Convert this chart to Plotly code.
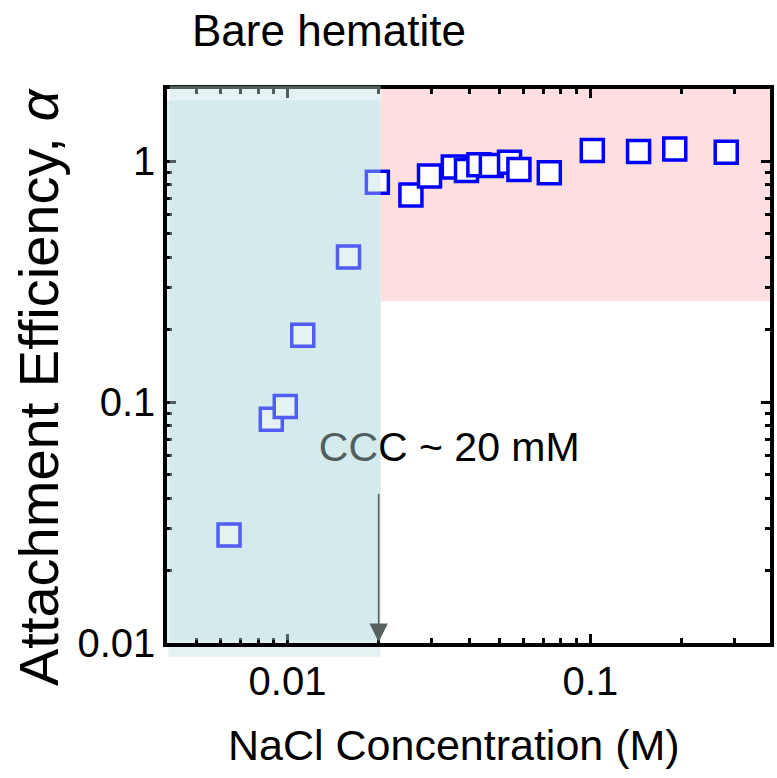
import numpy as np
import plotly.graph_objects as go

# ---- data ----
nacl_M = [0.00641, 0.00884, 0.00983, 0.01123, 0.0159, 0.0198,
          0.02556, 0.02944, 0.03528, 0.03900, 0.04285, 0.04712,
          0.0541, 0.0581, 0.0732, 0.1015, 0.1443, 0.190, 0.281]
alpha = [0.0281, 0.085, 0.096, 0.190, 0.401, 0.82,
         0.725, 0.870, 0.948, 0.918, 0.969, 0.963,
         0.993, 0.927, 0.898, 1.11, 1.10, 1.127, 1.092]

ccc_M = 0.02
x_range = [0.004, 0.392]
y_range = [0.01, 2.0]
pink_y_low = 0.263

x_tickvals = [0.01, 0.1]
x_ticktext = ["0.01", "0.1"]
y_tickvals = [0.01, 0.1, 1]
y_ticktext = ["0.01", "0.1", "1"]
x_minor = [0.005, 0.006, 0.007, 0.008, 0.009, 0.02, 0.03, 0.04, 0.05, 0.06,
           0.07, 0.08, 0.09, 0.2, 0.3]
y_minor = [0.02, 0.03, 0.04, 0.05, 0.06, 0.07, 0.08, 0.09,
           0.2, 0.3, 0.4, 0.5, 0.6, 0.7, 0.8, 0.9]

FONT = "Liberation Sans, Arial, sans-serif"
lx = np.log10

fig = go.Figure()

fig.add_trace(go.Scatter(
    x=nacl_M, y=alpha, mode="markers",
    marker=dict(symbol="square", size=22, color="white",
                line=dict(color="#0000ff", width=3.5)),
    showlegend=False, hoverinfo="skip"))

fig.add_trace(go.Scatter(
    x=[0.0342], y=[0.0630], mode="text", text=["CCC ~ 20 mM"],
    textposition="middle center",
    textfont=dict(family=FONT, size=41, color="black"),
    showlegend=False, hoverinfo="skip"))

shapes = [
    # pink region (below)
    dict(type="rect", xref="x", yref="y", layer="below", line_width=0,
         x0=ccc_M * 1.015, x1=x_range[1], y0=pink_y_low, y1=y_range[1],
         fillcolor="#fddfdf"),
    # teal region base (below)
    dict(type="rect", xref="x", yref="y", layer="below", line_width=0,
         x0=x_range[0], x1=ccc_M * 1.015, y0=y_range[0], y1=1.79,
         fillcolor="rgb(228,241,243)"),
    # teal strip below the axis
    dict(type="rect", xref="x", yref="paper", layer="below", line_width=0,
         x0=x_range[0] * 1.01, x1=ccc_M * 1.015, y0=-0.025, y1=-0.004,
         fillcolor="rgb(228,242,243)"),
    # teal translucent overlay (above)
    dict(type="rect", xref="x", yref="paper", layer="above", line_width=0,
         x0=x_range[0] * 1.02, x1=ccc_M * 1.015, y0=0.005, y1=1.006,
         fillcolor="rgba(190,224,226,0.42)"),
]
fig.update_layout(shapes=shapes)

fig.add_annotation(
    x=lx(ccc_M), y=lx(0.0101), ax=lx(ccc_M), ay=lx(0.0423),
    xref="x", yref="y", axref="x", ayref="y",
    text="", showarrow=True, arrowhead=2, arrowsize=2.3, arrowwidth=1.6,
    arrowcolor="#56605f", standoff=0)

fig.add_annotation(
    x=0.2685, y=1.105, xref="paper", yref="paper", text="Bare hematite",
    showarrow=False, font=dict(family=FONT, size=44, color="black"),
    xanchor="center", yanchor="middle")

fig.add_annotation(
    x=0.476, y=-0.184, xref="paper", yref="paper",
    text="NaCl Concentration (M)", showarrow=False,
    font=dict(family=FONT, size=43, color="black"),
    xanchor="center", yanchor="middle")

fig.add_annotation(
    x=-0.214, y=0.462, xref="paper", yref="paper",
    text="Attachment Efficiency, <i>α</i>", showarrow=False, textangle=-90,
    font=dict(family=FONT, size=56, color="black"),
    xanchor="center", yanchor="middle")

axis_common = dict(
    type="log", showline=True, linewidth=3.5, linecolor="black", mirror="ticks",
    ticks="inside", ticklen=9, tickwidth=2.5, tickcolor="black",
    showgrid=False, zeroline=False,
    tickfont=dict(family=FONT, size=40, color="black"),
)

fig.update_xaxes(
    **axis_common, range=[lx(x_range[0]), lx(x_range[1])],
    tickmode="array", tickvals=x_tickvals, ticktext=x_ticktext,
    minor=dict(tickmode="array", tickvals=x_minor, ticks="inside",
               ticklen=5, tickwidth=2.5, tickcolor="black", showgrid=False))
fig.update_yaxes(
    **axis_common, range=[lx(y_range[0]), lx(y_range[1])],
    tickmode="array", tickvals=y_tickvals, ticktext=y_ticktext,
    minor=dict(tickmode="array", tickvals=y_minor, ticks="inside",
               ticklen=5, tickwidth=2.5, tickcolor="black", showgrid=False))

fig.update_layout(
    width=777, height=778,
    margin=dict(l=167, r=3, t=89, b=135, pad=0),
    paper_bgcolor="white", plot_bgcolor="white",
    font=dict(family=FONT, color="black"),
)

fig.write_html("out.html")
